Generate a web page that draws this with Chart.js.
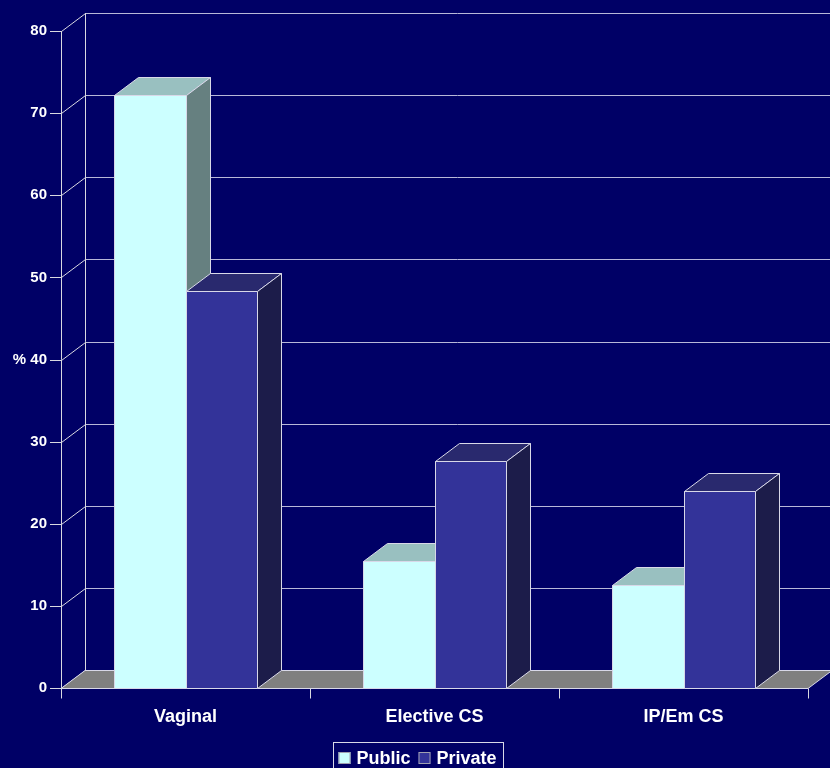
<!DOCTYPE html>
<html>
<head>
<meta charset="utf-8">
<script src="https://cdn.jsdelivr.net/npm/chart.js@4.4.1/dist/chart.umd.min.js"></script>
<style>
  html, body { margin: 0; padding: 0; background: #000066; }
  #wrap { width: 830px; height: 768px; }
</style>
</head>
<body>
<div id="wrap"><canvas id="c" width="830" height="768"></canvas></div>
<script>
const categories = ['Vaginal', 'Elective CS', 'IP/Em CS'];
const publicValues = [72.2, 15.5, 12.5];
const privateValues = [48.4, 27.6, 24.0];
const yTicks = [0, 10, 20, 30, 40, 50, 60, 70, 80];
const seriesNames = ['Public', 'Private'];

const DX = 24, DY = 18;
const BG = '#000066';
const AXIS = '#d8d8e0';
const GRID = '#b8b8d8';
const EDGE = '#d8d8e8';
const faces = [
  { front: '#CCFFFF', top: '#99C0C0', side: '#668080' },
  { front: '#333399', top: '#29296E', side: '#1C1C4A' }
];

function poly(ctx, pts, fill, stroke) {
  ctx.beginPath();
  ctx.moveTo(pts[0][0], pts[0][1]);
  for (let i = 1; i < pts.length; i++) ctx.lineTo(pts[i][0], pts[i][1]);
  ctx.closePath();
  if (fill) { ctx.fillStyle = fill; ctx.fill(); }
  if (stroke) { ctx.strokeStyle = stroke; ctx.lineWidth = 1; ctx.stroke(); }
}

const threeD = {
  id: 'threeD',
  beforeDraw(chart) {
    const ctx = chart.ctx;
    ctx.save();
    ctx.fillStyle = BG;
    ctx.fillRect(0, 0, chart.width, chart.height);
    ctx.restore();
  },
  beforeDatasetsDraw(chart) {
    const ctx = chart.ctx;
    const ca = chart.chartArea;
    const ys = chart.scales.y, xs = chart.scales.x;
    const L = ca.left, R = ca.right;
    const y0 = ys.getPixelForValue(0), yTop = ys.getPixelForValue(80);
    ctx.save();
    ctx.lineWidth = 1;
    // back wall grid lines
    yTicks.forEach(v => {
      const py = Math.round(ys.getPixelForValue(v)) + 0.5;
      ctx.strokeStyle = GRID;
      ctx.beginPath(); ctx.moveTo(L + DX, py - DY); ctx.lineTo(chart.width, py - DY); ctx.stroke();
      // diagonal side wall line
      ctx.strokeStyle = AXIS;
      ctx.beginPath(); ctx.moveTo(L + 0.5, py); ctx.lineTo(L + DX + 0.5, py - DY); ctx.stroke();
      // tick mark
      ctx.beginPath(); ctx.moveTo(L - 11, py); ctx.lineTo(L, py); ctx.stroke();
    });
    // back vertical
    ctx.strokeStyle = AXIS;
    ctx.beginPath(); ctx.moveTo(L + DX + 0.5, Math.round(yTop) - DY); ctx.lineTo(L + DX + 0.5, Math.round(y0) - DY + 0.5); ctx.stroke();
    // front vertical axis
    ctx.beginPath(); ctx.moveTo(L + 0.5, Math.round(yTop)); ctx.lineTo(L + 0.5, Math.round(y0) + 0.5); ctx.stroke();
    // floor
    const fy = Math.round(y0) + 0.5;
    poly(ctx, [[L, fy], [L + DX, fy - DY], [R + DX, fy - DY], [R, fy]], '#808080', EDGE);
    // category boundary ticks
    const n = categories.length;
    const cw = (R - L) / n;
    for (let i = 0; i <= n; i++) {
      const px = Math.round(L + i * cw) + 0.5;
      ctx.strokeStyle = AXIS;
      ctx.beginPath(); ctx.moveTo(px, fy); ctx.lineTo(px, fy + 10); ctx.stroke();
    }
    // bars
    const metas = chart.data.datasets.map((d, i) => chart.getDatasetMeta(i));
    for (let c = 0; c < n; c++) {
      metas.forEach((meta, di) => {
        const el = meta.data[c];
        const w = el.width;
        const l = Math.round(el.x - w / 2) + 0.5, r = Math.round(el.x + w / 2) + 0.5;
        const t = Math.round(el.y) + 0.5, b = Math.round(el.base) + 0.5;
        const f = faces[di];
        poly(ctx, [[l, t], [r, t], [r, b], [l, b]], f.front, EDGE);
        poly(ctx, [[l, t], [l + DX, t - DY], [r + DX, t - DY], [r, t]], f.top, EDGE);
        poly(ctx, [[r, t], [r + DX, t - DY], [r + DX, b - DY], [r, b]], f.side, EDGE);
      });
    }
    ctx.restore();
    return false;
  },
  afterDraw(chart) {
    const ctx = chart.ctx;
    ctx.save();
    ctx.font = 'bold 18px "Liberation Sans", Arial, sans-serif';
    const pad = 5, sq = 12, gap = 6, itemGap = 8;
    const widths = seriesNames.map(s => ctx.measureText(s).width);
    const total = pad + widths.reduce((a, w) => a + sq + gap + w, 0) + itemGap * (seriesNames.length - 1) + pad + 2;
    const bx = 333.5, by = 742.5;
    ctx.strokeStyle = EDGE; ctx.lineWidth = 1;
    ctx.strokeRect(bx, by, Math.round(total), 40);
    let x = bx + pad;
    ctx.textBaseline = 'alphabetic';
    seriesNames.forEach((s, i) => {
      ctx.fillStyle = faces[i].front;
      ctx.fillRect(x, 752, sq, sq);
      ctx.strokeStyle = '#a0a0b0';
      ctx.strokeRect(x + 0.5, 752.5, sq - 1, sq - 1);
      ctx.fillStyle = '#ffffff';
      ctx.fillText(s, x + sq + gap, 764);
      x += sq + gap + widths[i] + itemGap;
    });
    ctx.restore();
  }
};

new Chart(document.getElementById('c'), {
  type: 'bar',
  data: {
    labels: categories,
    datasets: [
      { label: seriesNames[0], data: publicValues, backgroundColor: faces[0].front },
      { label: seriesNames[1], data: privateValues, backgroundColor: faces[1].front }
    ]
  },
  options: {
    responsive: false,
    animation: false,
    events: [],
    layout: { padding: { top: 31, right: 22, left: 0, bottom: 0 } },
    datasets: { bar: { categoryPercentage: 0.578, barPercentage: 1.0 } },
    plugins: { legend: { display: false }, tooltip: { enabled: false } },
    scales: {
      x: {
        grid: { display: false, drawTicks: false },
        border: { display: false },
        ticks: { color: '#ffffff', padding: 18, maxRotation: 0, font: { family: '"Liberation Sans", Arial, sans-serif', size: 18, weight: 'bold' } },
        afterFit(s) { s.height = 80; }
      },
      y: {
        min: 0, max: 80,
        afterBuildTicks(s) { s.ticks = yTicks.map(v => ({ value: v })); },
        grid: { display: false, drawTicks: false },
        border: { display: false },
        ticks: {
          color: '#ffffff', padding: 14,
          font: { family: '"Liberation Sans", Arial, sans-serif', size: 15, weight: 'bold' },
          callback: v => (v === 40 ? '% 40' : String(v))
        },
        afterFit(s) { s.width = 61; }
      }
    }
  },
  plugins: [threeD]
});
</script>
</body>
</html>
